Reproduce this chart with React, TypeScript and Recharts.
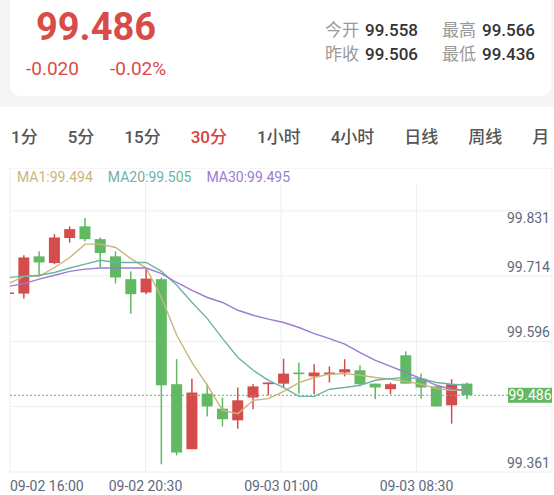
import React from 'react';
import { ComposedChart, Bar, Line, XAxis, YAxis, CartesianGrid, ReferenceLine } from 'recharts';

const FONT = 'Roboto, "Noto Sans CJK SC", sans-serif';
const RED = '#d44c4b';
const GREEN = '#62b964';
const AXIS = '#5f697d';
const GRID = '#eeeeee';

// header quote
const price = 99.486;
const change = -0.02;
const changePct = -0.02;
const statLabels = ['今开', '最高', '昨收', '最低'];
const statValues = [99.558, 99.566, 99.506, 99.436];

const tabs = ['1分', '5分', '15分', '30分', '1小时', '4小时', '日线', '周线', '月'];
const activeTab = '30分';

// 30 min candles, oldest first (the first one is cut by the left edge)
const opens = [99.682, 99.682, 99.749, 99.737, 99.782, 99.803, 99.78, 99.749, 99.708, 99.684, 99.708, 99.519, 99.402, 99.502, 99.475, 99.454, 99.495, 99.519, 99.52, 99.54, 99.533, 99.537, 99.54, 99.544, 99.52, 99.51, 99.571, 99.529, 99.515, 99.481, 99.52];
const closes = [99.684, 99.747, 99.738, 99.783, 99.798, 99.78, 99.755, 99.711, 99.681, 99.709, 99.517, 99.396, 99.504, 99.479, 99.456, 99.49, 99.515, 99.522, 99.538, 99.537, 99.54, 99.54, 99.546, 99.519, 99.513, 99.519, 99.52, 99.513, 99.479, 99.519, 99.499];
const highs = [99.686, 99.751, 99.758, 99.789, 99.803, 99.818, 99.783, 99.758, 99.722, 99.726, 99.711, 99.564, 99.529, 99.52, 99.495, 99.513, 99.519, 99.522, 99.565, 99.558, 99.555, 99.551, 99.564, 99.553, 99.52, 99.522, 99.578, 99.538, 99.515, 99.528, 99.522];
const lows = [99.681, 99.673, 99.715, 99.735, 99.774, 99.776, 99.729, 99.7, 99.646, 99.681, 99.375, 99.391, 99.402, 99.461, 99.443, 99.439, 99.474, 99.499, 99.513, 99.502, 99.501, 99.522, 99.533, 99.515, 99.492, 99.501, 99.52, 99.493, 99.479, 99.448, 99.492];

const ma1 = [99.7, 99.713, 99.713, 99.729, 99.747, 99.771, 99.771, 99.765, 99.745, 99.728, 99.675, 99.607, 99.558, 99.517, 99.472, 99.466, 99.49, 99.493, 99.506, 99.522, 99.531, 99.537, 99.538, 99.535, 99.531, 99.528, 99.524, 99.519, 99.511, 99.508, 99.508];
const ma20 = [99.711, 99.713, 99.715, 99.72, 99.728, 99.735, 99.742, 99.738, 99.738, 99.738, 99.722, 99.697, 99.666, 99.637, 99.601, 99.567, 99.544, 99.526, 99.513, 99.497, 99.497, 99.51, 99.513, 99.517, 99.526, 99.529, 99.531, 99.529, 99.522, 99.519, 99.517];
const ma30 = [99.695, 99.7, 99.708, 99.715, 99.722, 99.726, 99.728, 99.728, 99.728, 99.728, 99.718, 99.702, 99.688, 99.675, 99.666, 99.652, 99.643, 99.636, 99.63, 99.621, 99.61, 99.601, 99.591, 99.576, 99.562, 99.551, 99.54, 99.529, 99.517, 99.51, 99.508];

const maNames = ['MA1', 'MA20', 'MA30'];
const maLegend = [99.494, 99.505, 99.495];
const maColors = ['#c9b57c', '#6db3a3', '#9b7bd3'];

const timeLabels = ['09-02 16:00', '09-02 20:30', '09-03 01:00', '09-03 08:30'];
const yTicks = [99.361, 99.479, 99.596, 99.714, 99.831];
const paneTop = 99.908;
const xStart = 0.085;
const xEnd = 35.56;

const CHART_W = 554;
const lastClose = closes[closes.length - 1];
const xGrid = [0, 1, 2, 3, 4].map((k) => xStart + (k * (xEnd - xStart)) / 4);

const data = opens.map((o, i) => ({
  i,
  open: o,
  close: closes[i],
  high: highs[i],
  low: lows[i],
  ma1: ma1[i],
  ma20: ma20[i],
  ma30: ma30[i],
}));

function Candle(props: any) {
  const { x, y, width, height, payload } = props;
  const { open, close, high, low } = payload;
  const color = close >= open ? RED : GREEN;
  const k = high > low ? height / (high - low) : 0;
  const top = y + (high - Math.max(open, close)) * k;
  const bottom = y + (high - Math.min(open, close)) * k;
  const cx = x + width / 2;
  return (
    <g>
      <rect x={cx - 0.75} y={y} width={1.5} height={Math.max(height, 1)} fill={color} />
      <rect x={x} y={top} width={width} height={Math.max(bottom - top, 1.5)} fill={color} />
    </g>
  );
}

function YTick(props: any) {
  const { y, payload } = props;
  const v = payload.value;
  const topTick = yTicks[yTicks.length - 1];
  if (v > topTick + 0.01) return null;
  if (Math.abs(v - lastClose) < 0.03) return null; // hidden under the price tag
  return (
    <text x={CHART_W - 4} y={v === topTick ? y + 12 : y - 4} textAnchor="end" fill={AXIS} fontSize={14} fontFamily={FONT}>
      {v.toFixed(3)}
    </text>
  );
}

function XTick(props: any) {
  const { x, y, index } = props;
  const label = timeLabels[index];
  if (!label) return null;
  return (
    <text x={x} y={y + 18.5} textAnchor={index === 0 ? 'start' : 'middle'} fill={AXIS} fontSize={14} fontFamily={FONT}>
      {label}
    </text>
  );
}

function PriceTag(props: any) {
  const { x, y, width } = props.viewBox;
  const right = x + width;
  return (
    <g>
      <rect x={right - 44} y={y - 7.5} width={44} height={15} fill={GREEN} />
      <text x={right - 22} y={y + 5} textAnchor="middle" fill="#fff" fontSize={14} fontFamily={FONT}>
        {price.toFixed(3)}
      </text>
    </g>
  );
}

export default function App() {
  const abs = (s: React.CSSProperties): React.CSSProperties => ({ position: 'absolute', lineHeight: 1, whiteSpace: 'nowrap', ...s });
  return (
    <div style={{ position: 'relative', width: 554, height: 495, overflow: 'hidden', background: '#fff', fontFamily: FONT }}>
      <style>{'body{margin:0}'}</style>

      {/* quote card */}
      <div style={{ position: 'absolute', left: 0, top: 0, width: 554, height: 107, background: '#f5f5f5' }} />
      <div style={{ position: 'absolute', left: 10, top: -12, width: 541, height: 108, background: '#fff', borderRadius: 10 }} />
      <div style={abs({ left: 36, top: 8, fontSize: 38, fontWeight: 700, color: '#d84b46' })}>{price.toFixed(3)}</div>
      <div style={abs({ left: 26, top: 59, fontSize: 19, color: '#d84b46' })}>{change.toFixed(3)}</div>
      <div style={abs({ left: 110, top: 59, fontSize: 19, color: '#d84b46' })}>{changePct.toFixed(2)}%</div>
      {statLabels.map((l, i) => {
        const col = i % 2;
        const row = Math.floor(i / 2);
        const left = col === 0 ? 325 : 442;
        const top = row === 0 ? 21.7 : 45.7;
        return (
          <div key={l} style={abs({ left, top, fontSize: 17 })}>
            <span style={{ color: '#9a9a9a' }}>{l}</span>
            <span style={{ color: '#333', fontWeight: 500, marginLeft: 6 }}>{statValues[i].toFixed(3)}</span>
          </div>
        );
      })}

      {/* period tabs */}
      <div style={abs({ left: 11, top: 128.7, display: 'flex', gap: 30, fontSize: 17, fontWeight: 500 })}>
        {tabs.map((t) => (
          <span key={t} style={{ color: t === activeTab ? '#d9443c' : '#555' }}>{t}</span>
        ))}
      </div>

      {/* chart */}
      <div style={{ position: 'absolute', left: 0, top: 168 }}>
        <ComposedChart width={CHART_W} height={327} data={data} margin={{ top: 0, right: 2, bottom: 0, left: 10 }}>
          <CartesianGrid stroke={GRID} />
          <XAxis
            type="number"
            dataKey="i"
            domain={[xStart, xEnd]}
            allowDataOverflow
            ticks={xGrid}
            interval={0}
            axisLine={false}
            tickLine={false}
            tickSize={0}
            tickMargin={0}
            height={23}
            tick={<XTick />}
          />
          <YAxis
            orientation="right"
            mirror
            width={60}
            domain={[yTicks[0], paneTop]}
            allowDataOverflow
            ticks={[...yTicks, paneTop]}
            interval={0}
            axisLine={false}
            tickLine={false}
            tick={<YTick />}
          />
          <Bar dataKey={(d: any) => [d.low, d.high]} barSize={11} shape={<Candle />} isAnimationActive={false} />
          <Line type="linear" dataKey="ma1" stroke={maColors[0]} strokeWidth={1.4} dot={false} isAnimationActive={false} />
          <Line type="linear" dataKey="ma20" stroke={maColors[1]} strokeWidth={1.4} dot={false} isAnimationActive={false} />
          <Line type="linear" dataKey="ma30" stroke={maColors[2]} strokeWidth={1.4} dot={false} isAnimationActive={false} />
          <ReferenceLine
            y={lastClose}
            stroke={GREEN}
            strokeDasharray="2 2"
            label={{ content: (p: any) => <PriceTag viewBox={p.viewBox} /> }}
          />
        </ComposedChart>
      </div>

      {/* MA legend */}
      <div style={abs({ left: 10.5, top: 169, width: 540, height: 14, background: '#fff' })} />
      <div style={abs({ left: 17, top: 170.2, display: 'flex', gap: 15, fontSize: 14 })}>
        {maNames.map((n, i) => (
          <span key={n} style={{ color: maColors[i] }}>
            {n}:{maLegend[i].toFixed(3)}
          </span>
        ))}
      </div>
    </div>
  );
}
